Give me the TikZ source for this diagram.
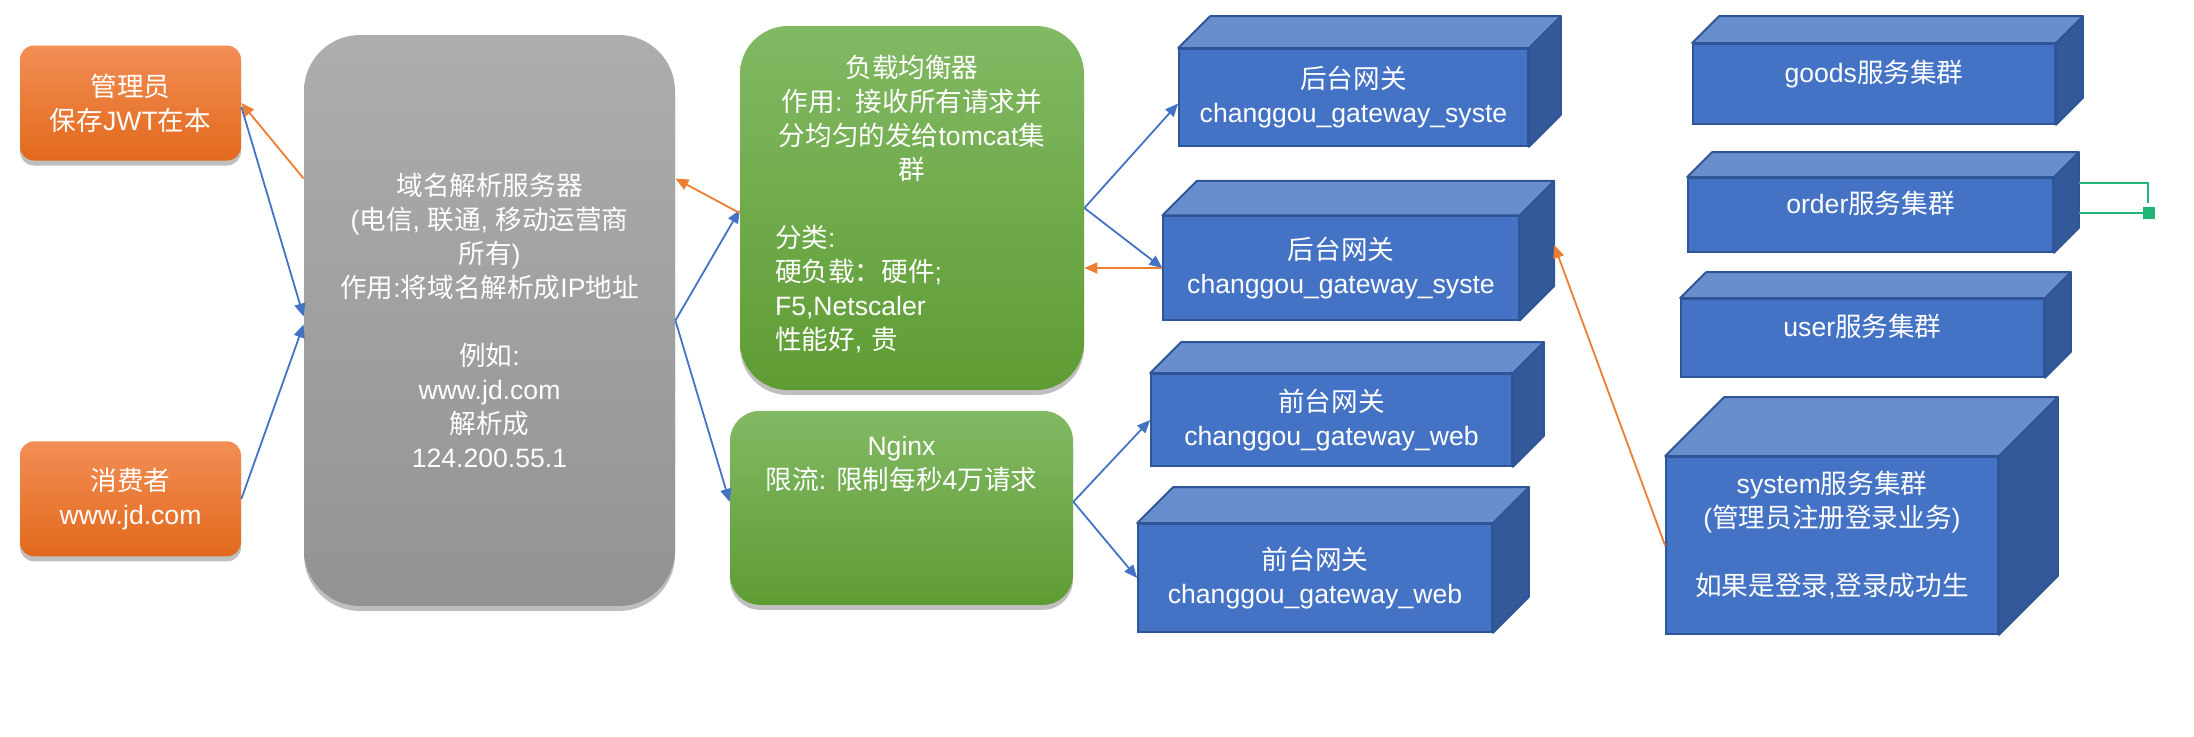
\documentclass[tikz,border=0pt]{standalone}
\usepackage{fontspec}
\setmainfont{Liberation Sans}
\newfontfamily\cjkfont{Noto Sans CJK SC}
\usetikzlibrary{arrows.meta,positioning,calc,shadows}
\setlength\parindent{0pt}

% runs of CJK characters switch to the CJK font
\XeTeXinterchartokenstate=1
\newXeTeXintercharclass\cjkclass
\newcount\cjkcode
\cjkcode="21
\loop \XeTeXcharclass\cjkcode=0 \advance\cjkcode by 1 \ifnum\cjkcode<"7F \repeat
\cjkcode="3000
\loop \XeTeXcharclass\cjkcode=\cjkclass \advance\cjkcode by 1 \ifnum\cjkcode<"A000 \repeat
\cjkcode="FF00
\loop \XeTeXcharclass\cjkcode=\cjkclass \advance\cjkcode by 1 \ifnum\cjkcode<"FFF0 \repeat
\XeTeXinterchartoks 0 \cjkclass = {\begingroup\cjkfont}
\XeTeXinterchartoks 4095 \cjkclass = {\begingroup\cjkfont}
\XeTeXinterchartoks \cjkclass 0 = {\endgroup}
\XeTeXinterchartoks \cjkclass 4095 = {\endgroup}

\newcommand\ctrline[1]{\hfill#1\hfill\null}

\definecolor{orgtop}{HTML}{F28E55}
\definecolor{orgbot}{HTML}{E2691C}
\definecolor{grytop}{HTML}{ADADAD}
\definecolor{grybot}{HTML}{939393}
\definecolor{grntop}{HTML}{82B964}
\definecolor{grnbot}{HTML}{5E9C33}
\definecolor{cubefront}{HTML}{4472C4}
\definecolor{cubetopc}{HTML}{698ECE}
\definecolor{cubesidec}{HTML}{34599B}
\definecolor{cubeline}{HTML}{2F5597}
\definecolor{arblue}{HTML}{4472C4}
\definecolor{arorange}{HTML}{ED7D31}
\definecolor{strayc}{HTML}{21B677}

\tikzset{
  txt/.style={text=white, font=\fontsize{13.3}{17}\selectfont},
  shbox/.style={rectangle, txt, align=center,
                drop shadow={shadow xshift=0pt, shadow yshift=-2.5pt, opacity=0.25, fill=black}},
  usr/.style={shbox, rounded corners=7pt, top color=orgtop, bottom color=orgbot,
              minimum width=110.5pt, minimum height=57.5pt},
  srv/.style={shbox, rounded corners=28pt, top color=grytop, bottom color=grybot},
  lbal/.style={shbox, rounded corners=24pt, top color=grntop, bottom color=grnbot},
  cubebox/.style={rectangle, txt, align=center, draw=cubeline, line width=0.9pt, fill=cubefront},
  cubetop/.style={draw=cubeline, line width=0.9pt, fill=cubetopc, line join=round},
  cubeside/.style={draw=cubeline, line width=0.9pt, fill=cubesidec, line join=round},
  ar/.style={draw=arblue, line width=0.9pt, -{Triangle[length=6.5pt,width=5.5pt]}},
  oar/.style={ar, draw=arorange},
  stray/.style={draw=strayc, line width=1.3pt},
}

\begin{document}
\begin{tikzpicture}[x=0.5pt, y=-0.5pt]
\useasboundingbox (0,0) rectangle (2194,736);

\node[usr] (admin) at (130.5,103) {管理员\\保存JWT在本};
\node[usr, below=140pt of admin] (consumer) {消费者\\www.jd.com};
\node[srv, minimum width=185.5pt, minimum height=285.5pt] (dns) at (489.5,320.5)
  {域名解析服务器\\(电信, 联通, 移动运营商\\所有)\\作用:将域名解析成IP地址\\[17pt]例如:\\www.jd.com\\解析成\\124.200.55.1};
\node[lbal, minimum width=172pt, minimum height=182pt, text width=137pt, align=left,
      inner xsep=17.5pt, text depth=142pt] (lb) at (912,208)
  {\ctrline{负载均衡器}\\\ctrline{作用: 接收所有请求并}\\\ctrline{分均匀的发给tomcat集}\\\ctrline{群}\\[17pt]分类:\\硬负载：硬件;\\F5,Netscaler\\性能好, 贵};
\node[lbal, rounded corners=15pt, minimum width=171.5pt, minimum height=97pt, text depth=44.6pt,
      below=10pt of lb, xshift=-5.25pt] (nginx) {Nginx\\限流: 限制每秒4万请求};

\node[cubebox, minimum width=174.5pt, minimum height=48.5pt] (gwsys1) at (1353.5,97.5) {后台网关\\changgou\_gateway\_syste};
\node[cubebox, minimum width=177.75pt, minimum height=51.75pt] (gwsys2) at (1341,268) {后台网关\\changgou\_gateway\_syste};
\node[cubebox, minimum width=180.5pt, minimum height=46pt] (gwweb1) at (1331.5,420) {前台网关\\changgou\_gateway\_web};
\node[cubebox, minimum width=177pt, minimum height=54pt] (gwweb2) at (1315,578) {前台网关\\changgou\_gateway\_web};
\node[cubebox, minimum width=181pt, minimum height=40pt, text depth=13pt] (goods) at (1874,84) {goods服务集群};
\node[cubebox, minimum width=182.5pt, minimum height=37pt, text depth=13pt] (order) at (1870.5,215) {order服务集群};
\node[cubebox, minimum width=181.5pt, minimum height=39pt, text depth=13pt] (user) at (1862.5,338) {user服务集群};
\node[cubebox, minimum width=166pt, minimum height=88.5pt, text depth=12.5pt] (system) at (1832,545.5)
  {system服务集群\\(管理员注册登录业务)\\[17pt]如果是登录,登录成功生};

\foreach \c/\d in {gwsys1/16pt, gwsys2/17.25pt, gwweb1/15.5pt, gwweb2/18pt,
                   goods/13.5pt, order/12.5pt, user/13pt, system/29.5pt} {
  \draw[cubetop] (\c.north west) -- ++(\d,\d) -- ([shift={(\d,\d)}]\c.north east) -- (\c.north east) -- cycle;
  \draw[cubeside] (\c.north east) -- ++(\d,\d) -- ([shift={(\d,\d)}]\c.south east) -- (\c.south east) -- cycle;
}

\draw[oar] ([yshift=71pt]dns.west) -- (admin.east);
\draw[ar] ([yshift=-2pt]admin.east) -- ([yshift=2pt]dns.west);
\draw[ar] (consumer.east) -- ([yshift=-2pt]dns.west);
\draw[ar] (dns.east) -- ([yshift=-1pt]lb.west);
\draw[ar] (dns.east) -- ([yshift=3pt]nginx.west);
\draw[oar] ([yshift=-2.5pt]lb.west) -- ([yshift=71pt]dns.east);
\draw[ar] (lb.east) -- ([yshift=-3pt]gwsys1.west);
\draw[ar] (lb.east) -- (gwsys2.west);
\draw[oar] (gwsys2.west) -- (gwsys2.west -| lb.east);
\foreach \g in {gwweb1,gwweb2} \draw[ar] ([yshift=3pt]nginx.east) -- (\g.west);
\coordinate (sysin) at ([shift={(17.25pt,11.5pt)}]gwsys2.east);
\draw[oar] (system.west) -- (sysin);

\coordinate (grnA) at ([shift={(12.5pt,16pt)}]order.east);
\coordinate (grnAend) at ([shift={(47pt,6pt)}]order.east);
\coordinate (grnB) at ([shift={(12.5pt,1pt)}]order.east);
\coordinate (grnBend) at ([shift={(50.5pt,1pt)}]order.east);
\draw[stray] (grnA) -| (grnAend);
\draw[stray, -{Square[length=6pt,width=6pt]}] (grnB) -- (grnBend);
\end{tikzpicture}
\end{document}
